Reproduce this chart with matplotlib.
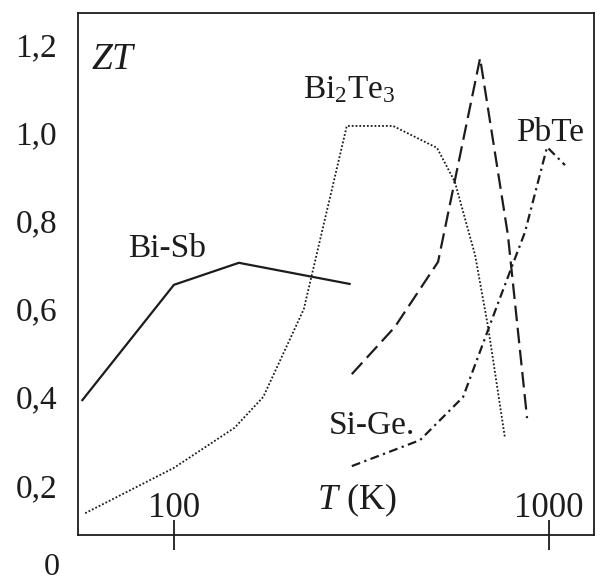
import matplotlib
matplotlib.use('Agg')
import matplotlib.pyplot as plt
from matplotlib.ticker import FixedLocator, NullLocator

# Данные (T в K, ZT безразмерно)
bisb_T = [57, 100, 149, 294]
bisb_zt = [0.393, 0.655, 0.705, 0.657]

bi2te3_T = [58, 100, 145, 173, 222, 289, 384, 503, 561, 635, 688, 763]
bi2te3_zt = [0.136, 0.239, 0.330, 0.400, 0.600, 1.016, 1.016, 0.966, 0.889, 0.723, 0.559, 0.307]

dash_T = [298, 388, 506, 655, 777, 874]
dash_zt = [0.452, 0.559, 0.707, 1.170, 0.768, 0.352]

dashdot_T = [298, 453, 590, 740, 863, 988, 1103]
dashdot_zt = [0.243, 0.302, 0.400, 0.625, 0.775, 0.968, 0.927]

x_ticks = [100, 1000]
x_labels = ['100', '1000']
y_ticks = [0.2, 0.4, 0.6, 0.8, 1.0, 1.2]
y_labels = ['0,2', '0,4', '0,6', '0,8', '1,0', '1,2']

plt.rcParams['font.family'] = ['Liberation Serif', 'DejaVu Serif']
plt.rcParams['mathtext.fontset'] = 'custom'
plt.rcParams['mathtext.rm'] = 'Liberation Serif'
plt.rcParams['mathtext.it'] = 'Liberation Serif:italic'

ink = '#1c1c1c'

fig = plt.figure(figsize=(6.02, 5.88), dpi=100)
ax = fig.add_axes([0.1296, 0.0901, 0.8571, 0.8878])

ax.plot(bisb_T, bisb_zt, color=ink, lw=1.6, ls='-')
ax.plot(bi2te3_T, bi2te3_zt, color=ink, lw=1.3, ls=(0, (1, 1.1)))
ax.plot(dash_T, dash_zt, color=ink, lw=1.6, ls=(0, (7, 3)))
ax.plot(dashdot_T, dashdot_zt, color=ink, lw=1.6, ls=(0, (4, 2, 1, 2)))

ax.set_xscale('log')
ax.set_xlim(55.5, 1318)
ax.set_ylim(0.0864, 1.2727)

ax.xaxis.set_major_locator(FixedLocator(x_ticks))
ax.xaxis.set_minor_locator(NullLocator())
ax.set_xticklabels(x_labels, fontsize=25)
ax.tick_params(axis='x', direction='inout', length=22, width=1.3, color=ink,
               pad=-42, labelcolor=ink)

ax.set_yticks(y_ticks)
ax.set_yticklabels(y_labels, fontsize=24)
ax.tick_params(axis='y', length=0, pad=15, labelcolor=ink)
ax.text(-0.035, 0.012, '0', transform=ax.get_yaxis_transform(), ha='right',
        va='center', fontsize=23, color=ink, clip_on=False)

for s in ax.spines.values():
    s.set_linewidth(1.3)
    s.set_color(ink)

# Подписи кривых (в координатах данных)
ax.text(69, 1.166, '$ZT$', fontsize=27, color=ink, ha='center', va='center')
ax.text(96, 0.736, 'Bi-Sb', fontsize=24, color=ink, ha='center', va='center')
ax.text(293, 1.098, 'Bi$_2$Te$_3$', fontsize=24, color=ink, ha='center', va='center')
ax.text(1006, 1.0, 'PbTe', fontsize=24, color=ink, ha='center', va='center')
ax.text(337, 0.334, 'Si-Ge.', fontsize=24, color=ink, ha='center', va='center')
ax.text(308, 0.166, '$T$ (K)', fontsize=26, color=ink, ha='center', va='center')

fig.savefig('out.png', dpi=100)
